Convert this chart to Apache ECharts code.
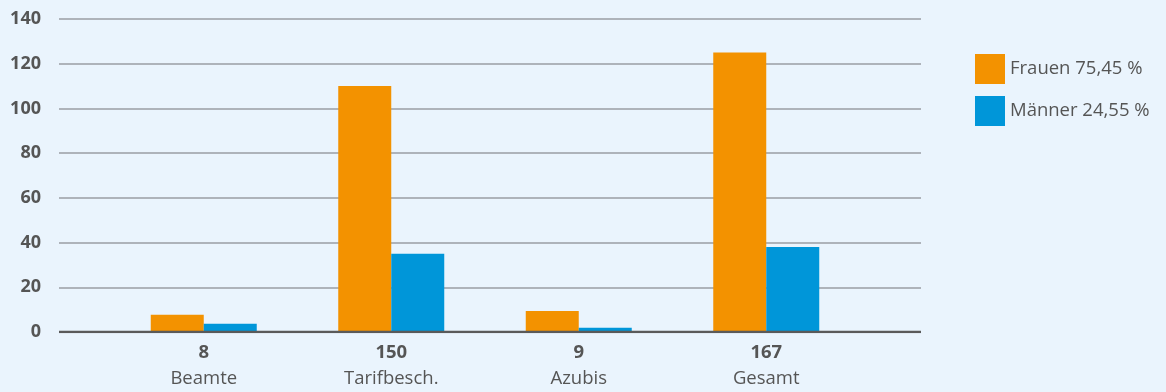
<!DOCTYPE html>
<html>
<head>
<meta charset="utf-8">
<script src="https://cdn.jsdelivr.net/npm/echarts@6/dist/echarts.min.js"></script>
<style>
  html, body { margin: 0; padding: 0; background: #eaf4fd; }
  #chart { width: 1166px; height: 392px; }
</style>
</head>
<body>
<div id="chart"></div>
<script>
const categories = ['Beamte', 'Tarifbesch.', 'Azubis', 'Gesamt'];
const totals = [8, 150, 9, 167];
const frauen = [7.7, 110, 9.4, 125];
const maenner = [3.7, 35, 1.9, 38];
const legendNames = ['Frauen 75,45 %', 'Männer 24,55 %'];

const chart = echarts.init(document.getElementById('chart'));
const font = '"Open Sans", "Noto Sans", sans-serif';

chart.setOption({
  backgroundColor: '#eaf4fd',
  textStyle: { fontFamily: font },
  legend: {
    orient: 'vertical',
    left: 975,
    top: 54,
    padding: 0,
    itemWidth: 30,
    itemHeight: 30,
    itemGap: 12,
    icon: 'rect',
    data: legendNames,
    textStyle: { color: '#555', fontSize: 18.5, fontFamily: font }
  },
  grid: [
    { left: 59, right: 245, top: 19, bottom: 60 },
    { left: 110, right: 306, top: 19, bottom: 60 }
  ],
  xAxis: [
    {
      gridIndex: 0,
      type: 'value',
      min: 0,
      max: 1,
      axisLine: { show: false },
      axisTick: { show: false },
      axisLabel: { show: false },
      splitLine: { show: false }
    },
    {
      gridIndex: 1,
      type: 'category',
      data: categories,
      axisLine: { show: false },
      axisTick: { show: false },
      axisLabel: {
        margin: 8,
        formatter: (v, i) => '{n|' + totals[i] + '}\n{c|' + v + '}',
        rich: {
          n: { fontSize: 18.5, fontWeight: 'bold', color: '#555', lineHeight: 26, fontFamily: font },
          c: { fontSize: 18.5, color: '#555', lineHeight: 26, fontFamily: font }
        }
      }
    }
  ],
  yAxis: [
    {
      gridIndex: 0,
      type: 'value',
      min: 0,
      max: 140,
      interval: 20,
      axisLine: { show: false },
      axisTick: { show: false },
      axisLabel: { color: '#555', fontSize: 18, fontWeight: 'bold', margin: 18, fontFamily: font },
      splitLine: { lineStyle: { color: '#9a9ea3', width: 1.5 } }
    },
    {
      gridIndex: 1,
      type: 'value',
      min: 0,
      max: 140,
      interval: 20,
      show: false
    }
  ],
  series: [
    {
      name: legendNames[0],
      type: 'bar',
      xAxisIndex: 1,
      yAxisIndex: 1,
      data: frauen,
      barWidth: 53,
      barGap: '0%',
      itemStyle: { color: '#f39200' },
      z: 3
    },
    {
      name: legendNames[1],
      type: 'bar',
      xAxisIndex: 1,
      yAxisIndex: 1,
      data: maenner,
      barWidth: 53,
      barGap: '0%',
      itemStyle: { color: '#0096d9' },
      z: 3
    },
    {
      // dark baseline across the full plot width
      type: 'line',
      xAxisIndex: 0,
      yAxisIndex: 0,
      data: [[0, 0], [1, 0]],
      symbol: 'none',
      lineStyle: { color: '#5a5a5a', width: 2.5 },
      z: 4,
      silent: true
    }
  ]
});
</script>
</body>
</html>
